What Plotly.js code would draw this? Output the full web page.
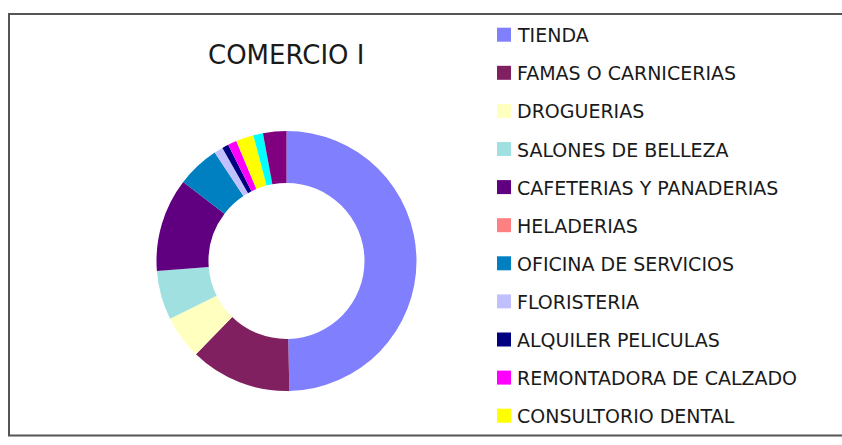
<!DOCTYPE html>
<html>
<head>
<meta charset="utf-8">
<script src="https://cdn.plot.ly/plotly-3.0.1.min.js"></script>
<style>html,body{margin:0;padding:0;background:#fff;}#chart{width:842px;height:445px;}</style>
</head>
<body>
<div id="chart"></div>
<script>
var categories = ["TIENDA", "FAMAS O CARNICERIAS", "DROGUERIAS", "SALONES DE BELLEZA",
  "CAFETERIAS Y PANADERIAS", "HELADERIAS", "OFICINA DE SERVICIOS", "FLORISTERIA",
  "ALQUILER PELICULAS", "REMONTADORA DE CALZADO", "CONSULTORIO DENTAL",
  "MISCELANEAS", "OTROS"];
var values = [49.6, 12.6, 5.4, 6.1, 11.6, 0, 5.3, 1.1, 0.8, 1.1, 2.2, 1.2, 2.9];
var colors = ["#8080FF", "#802060", "#FFFFC0", "#A0E0E0", "#600080", "#FF8080",
  "#0080C0", "#C0C0FF", "#000080", "#FF00FF", "#FFFF00", "#00FFFF", "#800080"];
var visibleLegendCount = 11;

var W = 842, H = 445;
var cx = 286.5, cy = 261, R = 130;
function px(x) { return x / W; }
function py(y) { return (H - y) / H; }

var trace = {
  type: "pie",
  labels: categories,
  values: values,
  hole: 0.6,
  sort: false,
  direction: "clockwise",
  rotation: 0,
  textinfo: "none",
  hoverinfo: "label+percent",
  marker: { colors: colors, line: { width: 0 } },
  domain: { x: [px(cx - R), px(cx + R)], y: [py(cy + R), py(cy - R)] },
  showlegend: false
};

var shapes = [{
  type: "rect", xref: "paper", yref: "paper",
  x0: px(9), x1: px(850), y0: py(435.5), y1: py(14),
  line: { color: "#555555", width: 2 }, fillcolor: "rgba(0,0,0,0)", layer: "below"
}];
var annotations = [{
  text: "COMERCIO I", xref: "paper", yref: "paper",
  x: px(286), y: py(55), xanchor: "center", yanchor: "middle", showarrow: false,
  font: { family: "DejaVu Sans, sans-serif", size: 26, color: "#1a1a1a" }
}];
var legTop = 34.7, legStep = 38.1;
for (var i = 0; i < visibleLegendCount; i++) {
  var yc = legTop + i * legStep;
  shapes.push({
    type: "rect", xref: "paper", yref: "paper",
    x0: px(497), x1: px(511), y0: py(yc + 7), y1: py(yc - 7),
    fillcolor: colors[i], line: { width: 0 }
  });
  annotations.push({
    text: categories[i], xref: "paper", yref: "paper",
    x: px(515), y: py(yc + 0.5), xanchor: "left", yanchor: "middle", showarrow: false,
    font: { family: "DejaVu Sans, sans-serif", size: 19, color: "#1a1a1a" }
  });
}

var layout = {
  width: W, height: H,
  margin: { l: 0, r: 0, t: 0, b: 0 },
  paper_bgcolor: "#ffffff",
  showlegend: false,
  shapes: shapes,
  annotations: annotations
};
Plotly.newPlot("chart", [trace], layout, { displayModeBar: false, staticPlot: true });
</script>
</body>
</html>
